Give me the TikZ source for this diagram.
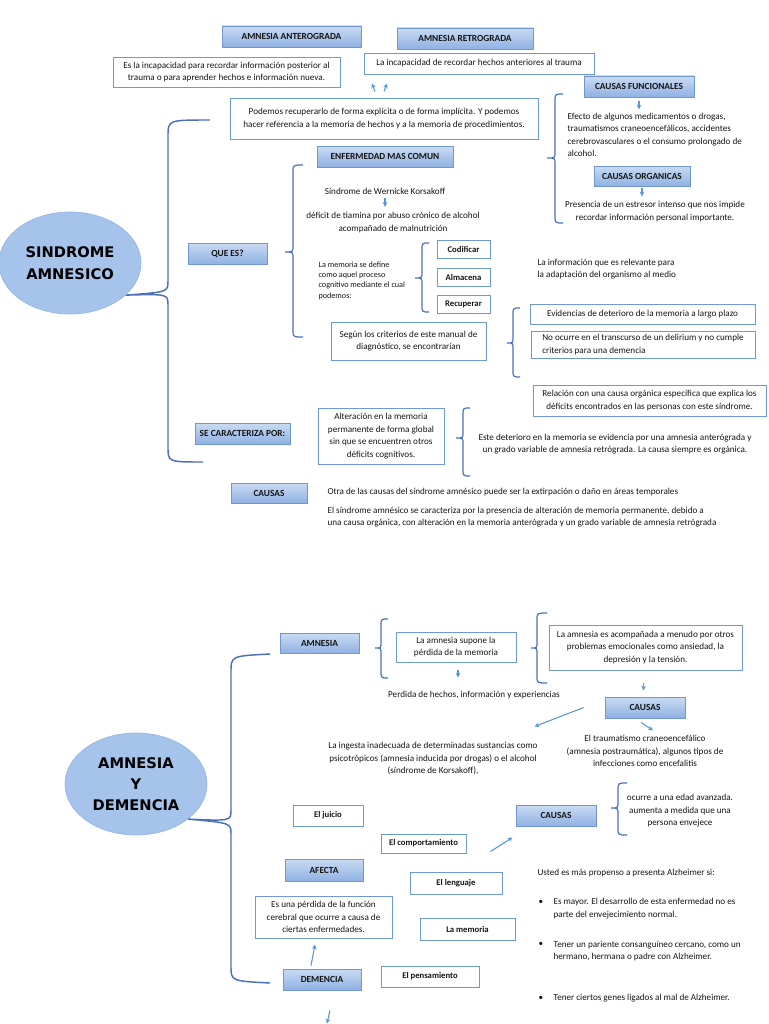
\documentclass[tikz,border=0pt]{standalone}
\usepackage{fontspec}
\setmainfont{Carlito}
\newfontfamily\ellfont{DejaVu Sans}
\usetikzlibrary{arrows.meta,calc,shadows,shapes.geometric}
\definecolor{hdrT}{HTML}{CADBF3}
\definecolor{hdrM}{HTML}{8FB1E2}
\definecolor{hdrB}{HTML}{7097D0}
\definecolor{boxB}{HTML}{6E99D2}
\definecolor{brkC}{HTML}{4A70BE}
\definecolor{arrC}{HTML}{5B95D6}
\definecolor{ellF}{HTML}{A5C3EB}
\definecolor{ellB}{HTML}{95B4E2}
\definecolor{txt}{HTML}{151515}
\newcommand{\fsN}{\fontsize{6.85}{9.4}\selectfont}
\newcommand{\fsH}{\fontsize{7}{8.4}\selectfont\bfseries}
\newcommand{\fsS}{\fontsize{6.1}{7.7}\selectfont}
\newcommand{\fsB}{\fontsize{6.5}{9.4}\selectfont\bfseries}
\newcommand{\mybox}[7]{%
  \pgfmathsetmacro\mybw{(#5-#3)*0.75}%
  \pgfmathsetmacro\mybh{(#6-#4)*0.75}%
  \node[#1, minimum width=\mybw pt, minimum height=\mybh pt] (#2) at ({(#3+#5)/2},{(#4+#6)/2}) {#7};}
\newcommand{\mybrace}[6]{%
  \draw[brk] (#6,#2) .. controls (#1,#2) .. (#1,#2+7) -- (#1,#4-6) .. controls (#1,#4) .. (#5,#4) .. controls (#1,#4) .. (#1,#4+6) -- (#1,#3-7) .. controls (#1,#3) .. (#6,#3);}
\tikzset{
  hdr/.style={draw=hdrB, line width=0.6pt, top color=hdrT, bottom color=hdrM, font=\fsH, text=txt, align=center, inner sep=1pt, drop shadow={shadow xshift=0.5pt, shadow yshift=-0.8pt, opacity=0.25}},
  tbox/.style={draw=boxB, line width=0.7pt, fill=white, font=\fsN, text=txt, align=center, inner sep=1pt},
  sbox/.style={tbox, font=\fsB},
  ptxt/.style={font=\fsN, text=txt, align=center, inner sep=1pt},
  ell/.style={ellipse, fill=ellF, draw=ellB, line width=0.5pt, minimum width=106.5pt, minimum height=76.5pt, font=\ellfont\bfseries\fontsize{11}{16.5}\selectfont, align=center, text=black, inner sep=0pt},
  brk/.style={draw=brkC, line width=0.9pt},
  bbrk/.style={draw=brkC, line width=1.1pt},
  arr/.style={draw=arrC, line width=0.8pt, -{Stealth[length=3.5pt,width=3.5pt]}}
}
\begin{document}
\begin{tikzpicture}[x=0.75pt,y=-0.75pt]
\fill[white] (0,0) rectangle (768,1024);
\path[use as bounding box] (0,0) rectangle (768,1024);

% ---------- TOP SECTION ----------
\node[ell] (e1) at (70,263) {SINDROME\\AMNESICO};

\mybox{hdr}{aa}{222}{26}{361}{47}{AMNESIA ANTEROGRADA}
\mybox{hdr}{ar}{397}{28}{533}{49}{AMNESIA RETROGRADA}
\mybox{tbox}{tant}{113}{57}{340}{87}{Es la incapacidad para recordar información posterior al\\trauma o para aprender hechos e información nueva.}
\mybox{tbox}{tret}{364}{53}{594}{74}{La incapacidad de recordar hechos anteriores al trauma}
\mybox{tbox}{pod}{230}{98}{538}{139}{Podemos recuperarlo de forma explícita o de forma implícita. Y podemos\\hacer referencia a la memoria de hechos y a la memoria de procedimientos.}

\mybox{hdr}{cf}{584}{76}{694}{97}{CAUSAS FUNCIONALES}
\node[ptxt, align=left, anchor=west] (efe) at (566,135) {Efecto de algunos medicamentos o drogas,\\traumatismos craneoencefálicos, accidentes\\cerebrovasculares o el consumo prolongado de\\alcohol.};
\mybox{hdr}{co}{594}{166}{690}{186}{CAUSAS ORGANICAS}
\node[ptxt] (pre) at (655,211.5) {Presencia de un estresor intenso que nos impide\\recordar información personal importante.};

\mybox{hdr}{emc}{317}{146}{453}{167}{ENFERMEDAD MAS COMUN}
\node[ptxt] (wk) at (385,191) {Síndrome de Wernicke Korsakoff};
\node[ptxt] (def) at (393,222.5) {déficit de tiamina por abuso crónico de alcohol\\acompañado de malnutrición};
\node[ptxt, font=\fsS, align=left, anchor=west] (mem) at (317,280.5) {La memoria se define\\como aquel proceso\\cognitivo mediante el cual\\podemos:};
\mybox{sbox}{cod}{437}{240}{490}{258}{Codificar}
\mybox{sbox}{alm}{437}{268}{490}{286}{Almacena}
\mybox{sbox}{rec}{437}{295}{490}{313}{Recuperar}
\node[ptxt, align=left, anchor=west] (inf) at (536,269) {La información que es relevante para\\la adaptación del organismo al medio};
\mybox{tbox}{seg}{331}{322}{486}{360}{Según los criterios de este manual de\\diagnóstico, se encontrarían}
\mybox{tbox}{evi}{530}{304}{755}{324}{Evidencias de deterioro de la memoria a largo plazo}
\mybox{tbox, align=left}{noc}{531}{331}{755}{358}{No ocurre en el transcurso de un delirium y no cumple\\criterios para una demencia}
\mybox{tbox}{rel}{533}{385}{766}{416}{Relación con una causa orgánica específica que explica los\\déficits encontrados en las personas con este síndrome.}
\mybox{hdr}{qe}{188}{243}{267}{264}{QUE ES?}

\mybox{hdr}{scp}{195}{423}{290}{444}{SE CARACTERIZA POR:}
\mybox{tbox}{alt}{318}{408}{444}{464}{Alteración en la memoria\\permanente de forma global\\sin que se encuentren otros\\déficits cognitivos.}
\node[ptxt] (det) at (615,444) {Este deterioro en la memoria se evidencia por una amnesia anterógrada y\\un grado variable de amnesia retrógrada. La causa siempre es orgánica.};
\mybox{hdr}{ca1}{231}{483}{307}{503}{CAUSAS}
\node[ptxt, anchor=west] (otra) at (326,492) {Otra de las causas del síndrome amnésico puede ser la extirpación o daño en áreas temporales};
\node[ptxt, align=left, anchor=west] (elsin) at (326,517) {El síndrome amnésico se caracteriza por la presencia de alteración de memoria permanente, debido a\\una causa orgánica, con alteración en la memoria anterógrada y un grado variable de amnesia retrógrada};

% brackets top
\draw[bbrk] (210,120) .. controls (168,120) .. (168,136) -- (168,281) .. controls (168,292) .. (e1.-30) .. controls (168,294) .. (168,305) -- (168,447) .. controls (168,462) .. (203,462);
\mybrace{555}{94}{223}{158}{547}{563}
\mybrace{293}{165}{337}{252}{285}{303}
\mybrace{422}{243}{312}{278}{415}{429}
\mybrace{513}{308}{377}{343}{507}{520}
\mybrace{463}{408}{476}{438}{456}{470}

% arrows top
\draw[arr] (pod.north) ++(-9,-6) -- ++(-3,-8);
\draw[arr] (pod.north) ++(0,-6) -- ++(3,-8);
\draw[arr] (cf.south) ++(0,4) -- ++(0,8);
\draw[arr] (co.south) ++(0,2) -- ++(0,8);
\draw[arr] (wk.south) ++(0,2) -- ++(0,9);

% ---------- BOTTOM SECTION ----------
\node[ell, font=\ellfont\bfseries\fontsize{11}{15.8}\selectfont] (e2) at (136,784) {AMNESIA\\Y\\DEMENCIA};
\mybox{hdr}{am}{280}{633}{359}{653}{AMNESIA}
\mybox{tbox}{sup}{396}{632}{516}{662}{La amnesia supone la\\pérdida de la memoria}
\node[ptxt] (perd) at (474,695) {Perdida de hechos, información y experiencias};
\mybox{tbox}{acom}{549}{625}{742}{670}{La amnesia es acompañada a menudo por otros\\problemas emocionales como ansiedad, la\\depresión y la tensión.}
\mybox{hdr}{c2}{605}{697}{685}{718}{CAUSAS}
\node[ptxt] (ing) at (433,758.5) {La ingesta inadecuada de determinadas sustancias como\\psicotrópicos (amnesia inducida por drogas) o el alcohol\\(síndrome de Korsakoff),};
\node[ptxt] (trau) at (645,751) {El traumatismo craneoencefálico\\(amnesia postraumática), algunos tipos de\\infecciones como encefalitis};
\mybox{sbox}{jui}{293}{805}{363}{826}{El juicio}
\mybox{sbox}{comp}{381}{834}{466}{853}{El comportamiento}
\mybox{hdr}{c3}{516}{805}{596}{826}{CAUSAS}
\node[ptxt] (ocu) at (680,811) {ocurre a una edad avanzada.\\aumenta a medida que una\\persona envejece};
\mybox{hdr}{afe}{285}{859}{363}{881}{AFECTA}
\mybox{sbox}{len}{410}{872}{502}{894}{El lenguaje}
\mybox{tbox}{esu}{255}{896}{392}{938}{Es una pérdida de la función\\cerebral que ocurre a causa de\\ciertas enfermedades.}
\mybox{sbox}{lmem}{420}{918}{515}{940}{La memoria}
\mybox{hdr}{dem}{283}{969}{361}{990}{DEMENCIA}
\mybox{sbox}{pen}{381}{966}{479}{987}{El pensamiento}
\node[ptxt, anchor=west] (ust) at (536,873) {Usted es más propenso a presenta Alzheimer si:};
\node[ptxt] (d1) at (541,902) {\textbullet};
\node[ptxt, align=left, anchor=west] (b1) at (552,908.5) {Es mayor. El desarrollo de esta enfermedad no es\\parte del envejecimiento normal.};
\node[ptxt] (d2) at (541,944) {\textbullet};
\node[ptxt, align=left, anchor=west] (b2) at (552,951) {Tener un pariente consanguíneo cercano, como un\\hermano, hermana o padre con Alzheimer.};
\node[ptxt] (d3) at (541,998) {\textbullet};
\node[ptxt, anchor=west] (b3) at (552,998) {Tener ciertos genes ligados al mal de Alzheimer.};

% brackets bottom
\draw[bbrk] (270,654) .. controls (231,656) .. (231,672) -- (231,810) .. controls (231,821) .. (e2.-34) .. controls (231,823) .. (231,834) -- (231,966) .. controls (231,981) .. (270,983);
\mybrace{381}{619}{678}{648}{375}{388}
\mybrace{537}{613}{683}{648}{531}{547}
\mybrace{618}{783}{835}{808}{611}{627}

% arrows bottom
\draw[arr] (sup.south) ++(2,8) -- ++(0,7);
\draw[arr] (acom.south) ++(-2,13) -- ++(0,7);
\draw[arr] (c2.west) ++(-21,0) -- ++(-49,19);
\draw[arr] (c2.south) ++(-4,4) -- ++(12,8);
\draw[arr] (comp.east) ++(24,8) -- ++(22,-14);
\draw[arr] (dem.north) ++(-11,-3) -- ++(4,-21);
\draw[arr] (dem.south) ++(8,20) -- ++(-3,13);
\end{tikzpicture}
\end{document}
